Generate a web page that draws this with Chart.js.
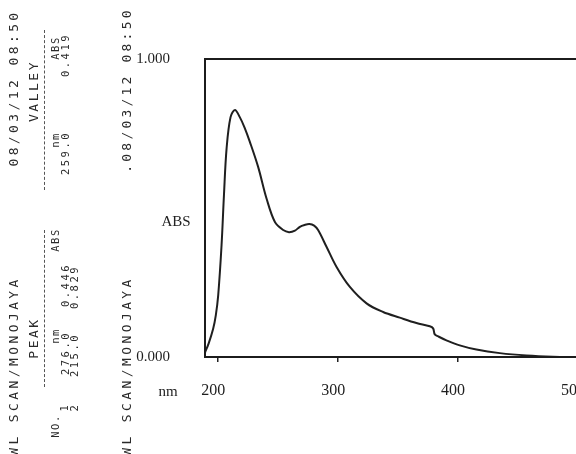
<!DOCTYPE html>
<html>
<head>
<meta charset="utf-8">
<script src="https://cdn.jsdelivr.net/npm/chart.js@4.4.1/dist/chart.umd.min.js"></script>
<style>
  body { margin: 0; width: 576px; height: 454px; overflow: hidden; background: #fff; position: relative; }
  #grafica { position: absolute; left: 0; top: 0; }
  .rot { position: absolute; white-space: nowrap; color: #2a2a2a; font-family: "DejaVu Sans Mono", monospace;
         transform: translate(-50%, -50%) rotate(-90deg); }
  .linea { position: absolute; width: 0; border-left: 1.5px dashed #555; }
</style>
</head>
<body>
<canvas id="grafica" width="620" height="454"></canvas>

<script>
// Datos del espectro (longitud de onda en nm, absorbancia)
const longitudes = [189, 192, 195.8, 198, 200, 202.8, 204.8, 207, 210.3, 214, 218, 222, 226.4, 233.3, 240.3,
  247.3, 254.2, 259, 264, 268.1, 272, 276, 280, 283.3, 290.3, 298.7, 309.8, 323.7, 337.5, 351.4,
  365.3, 376.4, 379.2, 380.6, 384, 390.3, 401.4, 415.3, 434.8, 457, 479, 500];

const absorbancias = [0.015, 0.045, 0.095, 0.14, 0.207, 0.375, 0.543, 0.70, 0.805, 0.829, 0.805, 0.770, 0.722,
  0.638, 0.532, 0.453, 0.426, 0.419, 0.424, 0.437, 0.443, 0.446, 0.441, 0.426, 0.370, 0.302, 0.235,
  0.180, 0.151, 0.132, 0.114, 0.103, 0.096, 0.076, 0.068, 0.056, 0.039, 0.025, 0.013, 0.005, 0.001, 0.0];

const etiquetasX = [200, 300, 400, 500];
const etiquetasY = [0, 1];

const tituloY = "ABS";
const tituloX = "nm";

/* MARCO Y TITULOS */
const marco = {
  id: "marco",
  afterDraw(chart) {
    const ctx = chart.ctx;
    const a = chart.chartArea;
    ctx.save();
    ctx.strokeStyle = "#1c1c1c";
    ctx.lineWidth = 2;
    ctx.strokeRect(a.left, a.top, a.right - a.left, a.bottom - a.top);
    ctx.font = '15px "Liberation Serif"';
    ctx.fillStyle = "#222";
    ctx.textAlign = "center";
    ctx.textBaseline = "middle";
    ctx.fillText(tituloY, 176, 222);
    ctx.fillText(tituloX, 168, 392);
    ctx.restore();
  }
};

const ctx = document.getElementById("grafica");

new Chart(ctx, {
  type: "line",
  data: {
    datasets: [{
      data: longitudes.map((x, i) => ({ x: x, y: absorbancias[i] })),
      borderColor: "#1f1f1f",
      borderWidth: 2,
      pointRadius: 0,
      tension: 0.35,
      fill: false
    }]
  },
  options: {
    responsive: false,
    animation: false,
    devicePixelRatio: 1,
    layout: { padding: { top: 59, left: 0, right: 42, bottom: 0 } },
    plugins: { legend: { display: false }, tooltip: { enabled: false } },
    scales: {
      x: {
        type: "linear",
        min: 189,
        max: 500,
        afterBuildTicks: s => { s.ticks = etiquetasX.map(v => ({ value: v })); },
        afterFit: s => { s.height = 97; },
        grid: { drawOnChartArea: false, tickLength: 5, color: "#222", lineWidth: 1.5 },
        border: { display: true, color: "#1c1c1c", width: 2 },
        ticks: {
          padding: 19,
          labelOffset: -5,
          maxRotation: 0,
          color: "#1e1e1e",
          font: { family: "Liberation Serif", size: 16 },
          callback: v => String(v)
        }
      },
      y: {
        min: 0,
        max: 1,
        afterBuildTicks: s => { s.ticks = etiquetasY.map(v => ({ value: v })); },
        afterFit: s => { s.width = 205; },
        grid: { display: false },
        border: { display: true, color: "#1c1c1c", width: 2 },
        ticks: {
          padding: 27,
          color: "#1e1e1e",
          font: { family: "Liberation Serif", size: 15 },
          callback: v => v.toFixed(3)
        }
      }
    }
  },
  plugins: [marco]
});

/* TEXTO LATERAL (girado) */
const textos = [
  ["08/03/12 08:50", 13, 88, 13, 3.4],
  ["WL SCAN/MONOJAYA", 13, 366, 13, 3.4],
  ["VALLEY", 33, 91, 13, 2.5],
  ["PEAK", 33, 338, 13, 2.5],
  ["nm", 55, 140, 10.5, 1.5],
  ["ABS", 55, 48, 10.5, 1.5],
  ["NO.", 55, 426, 10.5, 1.5],
  ["nm", 55, 336, 10.5, 1.5],
  ["ABS", 55, 240, 10.5, 1.5],
  ["259.0", 65, 153, 10.5, 2.5],
  ["0.419", 65, 55, 10.5, 2.5],
  ["1", 64, 407, 10.5, 2.5],
  ["276.0", 65, 353, 10.5, 2.5],
  ["0.446", 65, 285, 10.5, 2.5],
  ["2", 74, 407, 10.5, 2.5],
  ["215.0", 74, 355, 10.5, 2.5],
  ["0.829", 74, 287, 10.5, 2.5],
  [".08/03/12 08:50", 126, 90, 13, 3.2],
  ["WL SCAN/MONOJAYA", 126, 366, 13, 3.4]
];

textos.forEach(t => {
  const d = document.createElement("div");
  d.className = "rot";
  d.textContent = t[0];
  d.style.left = t[1] + "px";
  d.style.top = t[2] + "px";
  d.style.fontSize = t[3] + "px";
  d.style.letterSpacing = t[4] + "px";
  document.body.appendChild(d);
});

// lineas punteadas bajo VALLEY y PEAK
[[44, 30, 160], [44, 230, 157]].forEach(l => {
  const d = document.createElement("div");
  d.className = "linea";
  d.style.left = l[0] + "px";
  d.style.top = l[1] + "px";
  d.style.height = l[2] + "px";
  document.body.appendChild(d);
});
</script>
</body>
</html>
